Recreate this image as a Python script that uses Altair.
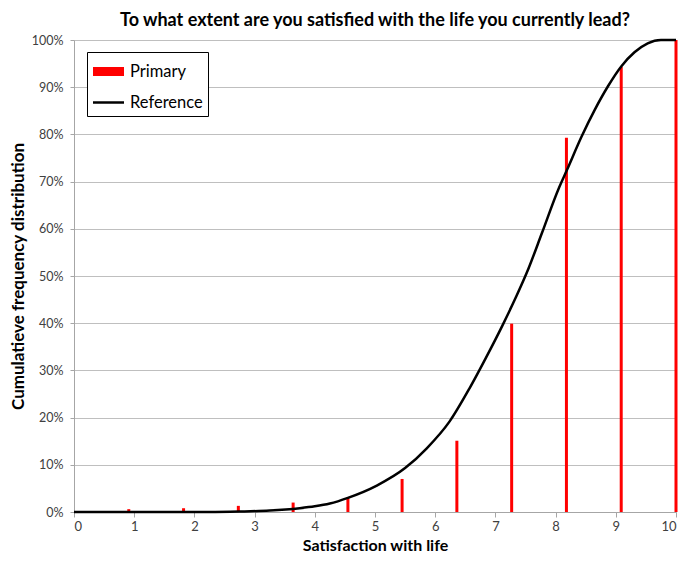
import altair as alt
import pandas as pd

# Primary (red bars): cumulative share at each scale position
bar_x = [0.91, 1.82, 2.73, 3.64, 4.55, 5.45, 6.36, 7.27, 8.18, 9.09, 10.0]
bar_y = [0.006, 0.008, 0.013, 0.020, 0.031, 0.070, 0.151, 0.399, 0.793, 0.943, 1.0]

# Reference curve (black line)
ref_x = [0.0, 2.25, 2.75, 3.25, 3.75, 4.0, 4.25, 4.55, 5.03, 5.5, 5.86, 6.24, 6.57,
         6.84, 7.12, 7.34, 7.55, 7.77, 8.05, 8.19, 8.43, 8.65, 8.87, 9.09, 9.31,
         9.53, 9.75, 10.0]
ref_y = [0.0, 0.0, 0.001, 0.003, 0.008, 0.012, 0.018, 0.030, 0.056, 0.093, 0.135,
         0.192, 0.262, 0.326, 0.396, 0.455, 0.516, 0.590, 0.685, 0.725, 0.795, 0.852,
         0.902, 0.944, 0.974, 0.993, 1.0, 1.0]

x_ticks = list(range(0, 11))
y_ticks = [i / 10 for i in range(0, 11)]

FONT = "Lato"
SERIES = ["Primary", "Reference"]

bars_df = pd.DataFrame({"x": bar_x, "y": bar_y, "series": "Primary"})
ref_df = pd.DataFrame({"x": ref_x, "y": ref_y, "series": "Reference"})

x_scale = alt.Scale(domain=[0, 10], nice=False, zero=False)
y_scale = alt.Scale(domain=[0, 1], nice=False)

legend = alt.Legend(
    title=None,
    orient="none",
    legendX=13,
    legendY=12,
    symbolType="M-1.55,0H1.55",
    symbolSize=400,
    symbolOffset=2,
    labelFontSize=16.5,
    labelFont=FONT,
    labelColor="#000000",
    labelOffset=7,
    rowPadding=1,
    padding=5,
    strokeColor="#000000",
    fillColor="#ffffff",
)

color = alt.Color(
    "series:N",
    scale=alt.Scale(domain=SERIES, range=["#ff0000", "#000000"]),
    legend=legend,
)

x_axis = alt.Axis(
    title="Satisfaction with life",
    values=x_ticks,
    format="d",
    grid=False,
    tickSize=5,
    tickColor="#a6a6a6",
    domainColor="#a6a6a6",
    labelFontSize=13,
    labelFont=FONT,
    labelColor="#404040",
    labelPadding=3,
    titleFontSize=16,
    titleFont=FONT,
    titleFontWeight="bold",
    titleColor="#000000",
    titlePadding=4,
)

y_axis = alt.Axis(
    title="Cumulatieve frequency distribution",
    values=y_ticks,
    format=".0%",
    grid=True,
    gridColor="#bfbfbf",
    gridWidth=1,
    tickSize=4,
    tickColor="#a6a6a6",
    domainColor="#a6a6a6",
    labelFontSize=12.5,
    labelFont=FONT,
    labelColor="#404040",
    labelPadding=7,
    titleFontSize=17,
    titleFont=FONT,
    titleFontWeight="bold",
    titleColor="#000000",
    titlePadding=4,
)

bars = alt.Chart(bars_df).mark_rule(strokeWidth=3).encode(
    x=alt.X("x:Q", scale=x_scale, axis=x_axis),
    y=alt.Y("y:Q", scale=y_scale, axis=y_axis),
    y2=alt.datum(0),
    color=color,
)

line = alt.Chart(ref_df).mark_line(interpolate="monotone").encode(
    x=alt.X("x:Q", scale=x_scale),
    y=alt.Y("y:Q", scale=y_scale),
    color=color,
    strokeWidth=alt.StrokeWidth(
        "series:N",
        scale=alt.Scale(domain=SERIES, range=[9, 2.5]),
        legend=legend,
    ),
)

chart = (
    alt.layer(bars, line)
    .properties(
        width=602,
        height=472,
        title=alt.TitleParams(
            "To what extent are you satisfied with the life you currently lead?",
            fontSize=18,
            font=FONT,
            fontWeight="bold",
            color="#000000",
            anchor="middle",
            frame="group",
            offset=4,
        ),
        autosize=alt.AutoSizeParams(type="none"),
        padding={"left": 66, "top": 32, "right": 2, "bottom": 41},
    )
    .configure_view(stroke=None)
    .configure(background="#ffffff")
)

chart.save("out.html", embed_options={"renderer": "svg", "actions": False})
